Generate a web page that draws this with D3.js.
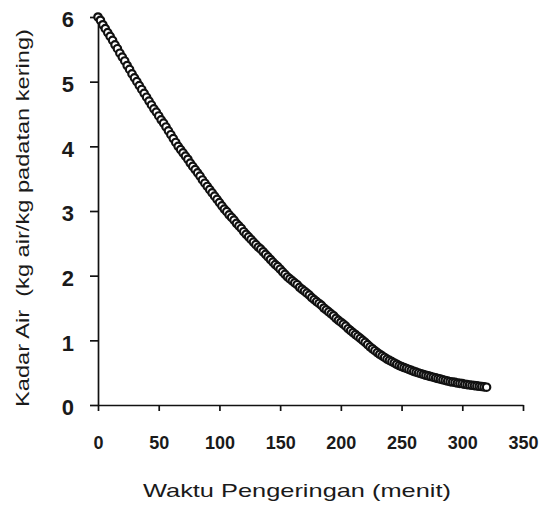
<!DOCTYPE html>
<html><head><meta charset="utf-8">
<script src="https://cdn.jsdelivr.net/npm/d3@7/dist/d3.min.js"></script>
<style>body{margin:0;background:#fff}svg{display:block}</style>
</head><body>
<svg id="chart" width="547" height="509"></svg>
<script>
// ---- data ----
const timeMin = [0,2,4,6,8,10,12,14,16,18,20,22,24,26,28,30,32,34,36,38,40,42,44,46,48,50,52,54,56,58,60,62,64,66,68,70,72,74,76,78,80,82,84,86,88,90,92,94,96,98,100,102,104,106,108,110,112,114,116,118,120,122,124,126,128,130,132,134,136,138,140,142,144,146,148,150,152,154,156,158,160,162,164,166,168,170,172,174,176,178,180,182,184,186,188,190,192,194,196,198,200,202,204,206,208,210,212,214,216,218,220,222,224,226,228,230,232,234,236,238,240,242,244,246,248,250,252,254,256,258,260,262,264,266,268,270,272,274,276,278,280,282,284,286,288,290,292,294,296,298,300,302,304,306,308,310,312,314,316,318,320];
const moisture = [6.00,5.95,5.88,5.82,5.76,5.70,5.64,5.57,5.51,5.44,5.38,5.32,5.25,5.19,5.12,5.06,5.00,4.94,4.88,4.82,4.76,4.70,4.64,4.58,4.53,4.47,4.41,4.36,4.30,4.24,4.18,4.12,4.06,4.00,3.95,3.90,3.85,3.80,3.74,3.69,3.64,3.59,3.54,3.48,3.43,3.38,3.33,3.28,3.23,3.18,3.13,3.08,3.03,2.99,2.94,2.90,2.86,2.81,2.77,2.73,2.68,2.64,2.60,2.56,2.52,2.48,2.44,2.41,2.37,2.33,2.29,2.25,2.21,2.17,2.14,2.10,2.06,2.02,1.98,1.95,1.92,1.89,1.86,1.82,1.79,1.76,1.73,1.70,1.66,1.63,1.60,1.57,1.54,1.50,1.47,1.44,1.41,1.38,1.34,1.31,1.28,1.25,1.22,1.18,1.15,1.12,1.09,1.06,1.03,1.00,0.97,0.935,0.90,0.87,0.84,0.81,0.785,0.76,0.735,0.71,0.69,0.67,0.65,0.63,0.61,0.595,0.58,0.565,0.55,0.535,0.52,0.508,0.496,0.484,0.472,0.46,0.45,0.44,0.43,0.42,0.41,0.40,0.39,0.38,0.37,0.36,0.355,0.35,0.34,0.335,0.33,0.32,0.315,0.31,0.305,0.30,0.295,0.29,0.285,0.28,0.275,0.27,0.265,0.26,0.25];
const xTicks = [0,50,100,150,200,250,300,350];
const yTicks = [0,1,2,3,4,5,6];
const xTitle = "Waktu Pengeringan (menit)";
const yTitle = "Kadar Air  (kg air/kg padatan kering)";

// ---- drawing ----
const svg = d3.select("#chart");
const font = "'Liberation Sans', Arial, sans-serif";
const x = d3.scaleLinear().domain([0, 350]).range([98, 523]);
const y = d3.scaleLinear().domain([0, 6]).range([405, 17]);

const xAxis = svg.append("g").attr("transform", "translate(0,405)")
  .call(d3.axisBottom(x).tickValues(xTicks).tickFormat(d3.format("d"))
    .tickSize(6).tickSizeOuter(0).tickPadding(25));
const yAxis = svg.append("g").attr("transform", "translate(98,0)")
  .call(d3.axisLeft(y).tickValues(yTicks).tickFormat(d3.format("d"))
    .tickSize(8).tickSizeOuter(0).tickPadding(16));

[xAxis, yAxis].forEach(g => {
  g.select(".domain").attr("stroke", "#111").attr("stroke-width", 1.7);
  g.selectAll(".tick line").attr("stroke", "#111").attr("stroke-width", 1.7);
});
xAxis.selectAll(".tick text").attr("font-family", font).attr("font-size", 18)
  .attr("font-weight", "bold").attr("fill", "#1a1a1a");
yAxis.selectAll(".tick text").attr("font-family", font).attr("font-size", 22)
  .attr("font-weight", "bold").attr("fill", "#1a1a1a").attr("dy", "0.45em");

const pts = timeMin.map((t, i) => ({t, v: moisture[i]}));
svg.append("g").selectAll("circle").data(pts).join("circle")
  .attr("cx", d => x(d.t)).attr("cy", d => y(d.v)).attr("r", 3.7)
  .attr("fill", "#fff").attr("stroke", "#111").attr("stroke-width", 2.2);

svg.append("text").attr("x", 297).attr("y", 497)
  .attr("text-anchor", "middle").attr("font-family", font).attr("font-size", 19).attr("fill", "#1a1a1a")
  .attr("textLength", 308).attr("lengthAdjust", "spacingAndGlyphs").text(xTitle);

svg.append("text").attr("transform", "translate(29,218) rotate(-90)")
  .attr("text-anchor", "middle").attr("font-family", font).attr("font-size", 19).attr("fill", "#1a1a1a")
  .style("white-space", "pre")
  .attr("textLength", 378).attr("lengthAdjust", "spacingAndGlyphs").text(yTitle);
</script>
</body></html>
